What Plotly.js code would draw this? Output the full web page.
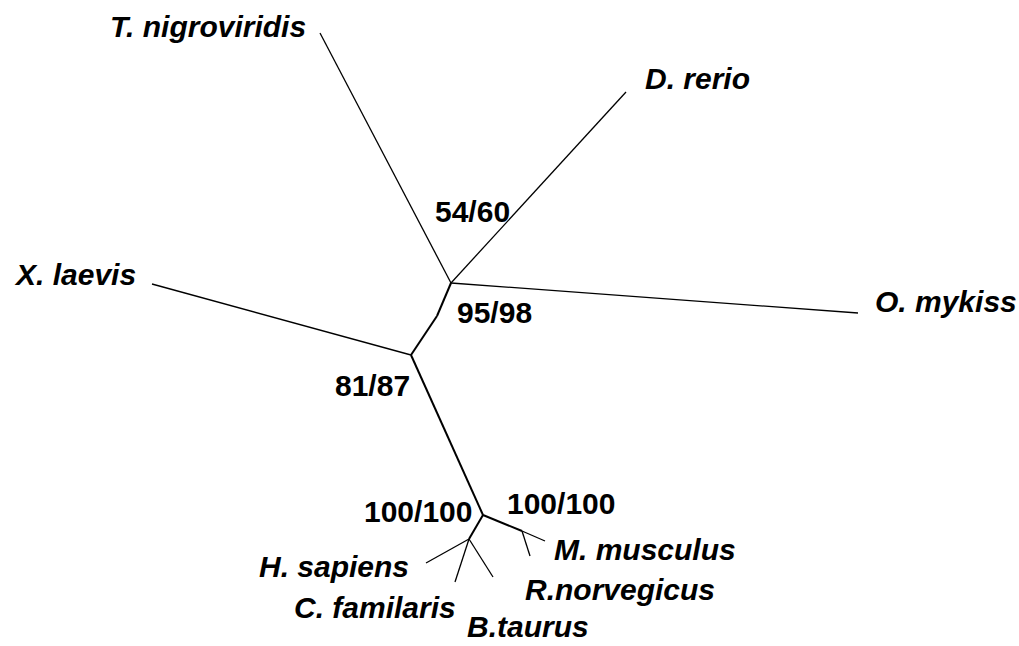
<!DOCTYPE html>
<html>
<head>
<meta charset="utf-8">
<script src="https://cdn.plot.ly/plotly-3.0.1.min.js"></script>
<style>html,body{margin:0;padding:0;background:#fff;}#chart{width:1019px;height:646px;}</style>
</head>
<body>
<div id="chart"></div>
<script>
// Tree node layout (pixel space of the drawing)
const nodeId = ['A','AB','B','C','P','R','Tn','Dr','Om','Xl','Hs','Cf','Bt','Mm','Rn'];
const nodeX  = [451, 437, 411, 483, 469, 522, 320, 626, 858, 152, 426, 455, 493, 545, 530];
const nodeY  = [283, 316, 355, 515, 539, 531,  33,  92, 313, 284, 563, 582, 577, 541, 556];

// Branches
const edgeFrom = ['A','A','A','A','AB','B','B','C','C','P','P','P','R','R'];
const edgeTo   = ['Tn','Dr','Om','AB','B','Xl','C','P','R','Hs','Cf','Bt','Mm','Rn'];
const edgeInternal = [false,false,false,true,true,false,true,true,true,false,false,false,false,false];

// Species labels
const speciesNames = ['T. nigroviridis','D. rerio','X. laevis','O. mykiss','M. musculus','H. sapiens','R.norvegicus','C. familaris','B.taurus'];
const speciesX = [108, 643, 12, 873, 552, 257, 523, 292, 465];
const speciesY = [24, 76, 272, 299, 547, 564, 587, 605, 630];

// Bootstrap support values
const supportText = ['54/60','95/98','81/87','100/100','100/100'];
const supportX = [433, 455, 333, 505, 362];
const supportY = [209, 310, 383, 501, 509];

function pos(id){ const i = nodeId.indexOf(id); return [nodeX[i], nodeY[i]]; }

function edgeTrace(internal, width){
  const xs = [], ys = [];
  edgeFrom.forEach((f, k) => {
    if (edgeInternal[k] !== internal) return;
    const a = pos(f), b = pos(edgeTo[k]);
    xs.push(a[0], b[0], null); ys.push(a[1], b[1], null);
  });
  return {x: xs, y: ys, mode: 'lines', type: 'scatter', hoverinfo: 'skip',
          line: {color: '#000', width: width}, showlegend: false};
}

const font = {family: '"Liberation Sans", Arial, sans-serif', size: 30, color: '#000'};
const annotations = [];
speciesNames.forEach((t, i) => {
  const nearBottom = speciesY[i] > 620;
  annotations.push({
    x: speciesX[i], y: nearBottom ? 645 : speciesY[i] + 2, xref: 'x', yref: 'y',
    text: '<b><i>' + t + '</i></b>',
    showarrow: false, xanchor: 'left', yanchor: nearBottom ? 'bottom' : 'middle', font: font
  });
});
supportText.forEach((t, i) => annotations.push({
  x: supportX[i], y: supportY[i] + 2, xref: 'x', yref: 'y', text: '<b>' + t + '</b>',
  showarrow: false, xanchor: 'left', yanchor: 'middle', font: font
}));

const layout = {
  width: 1019, height: 646,
  margin: {l: 0, r: 0, t: 0, b: 0},
  paper_bgcolor: '#fff', plot_bgcolor: '#fff',
  xaxis: {range: [0, 1019], visible: false, fixedrange: true},
  yaxis: {range: [646, 0], visible: false, fixedrange: true},
  annotations: annotations,
  showlegend: false
};

Plotly.newPlot('chart', [edgeTrace(false, 1.3), edgeTrace(true, 2)], layout, {staticPlot: true, displayModeBar: false});
</script>
</body>
</html>
